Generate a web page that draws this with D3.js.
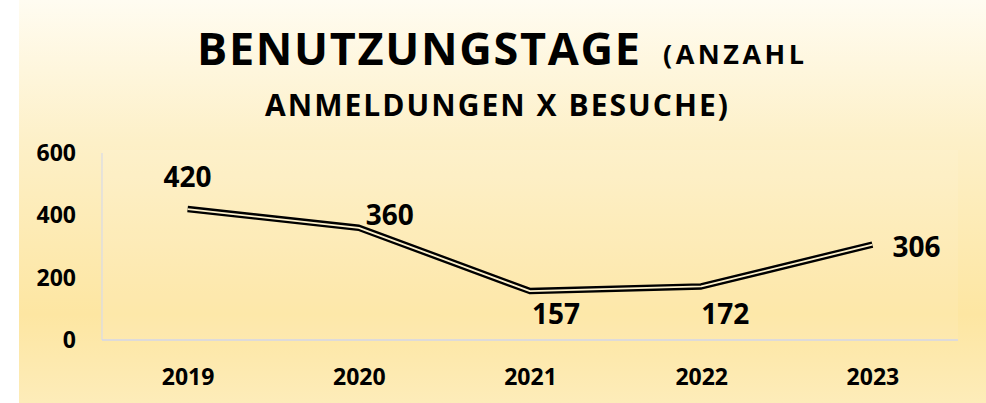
<!DOCTYPE html>
<html>
<head>
<meta charset="utf-8">
<script src="https://cdn.jsdelivr.net/npm/d3@7"></script>
<style>
  html, body { margin: 0; padding: 0; background: #ffffff; }
  svg { display: block; font-family: "Open Sans", sans-serif; font-weight: 700; }
</style>
</head>
<body>
<div id="chart"></div>
<script>
// data
const years = ['2019', '2020', '2021', '2022', '2023'];
const usageDays = [420, 360, 157, 172, 306];
const yTicks = [0, 200, 400, 600];

const width = 986;
const height = 403;
const plot = { left: 102, right: 958, top: 153, bottom: 340 };

// label placement relative to each point (dx, dy to baseline)
const labelOffsets = [[0, -22], [31, -3], [26, 33], [24, 38], [44, 12]];

const svg = d3.select('#chart')
  .append('svg')
  .attr('width', width)
  .attr('height', height);

const defs = svg.append('defs');
const grad = defs.append('linearGradient')
  .attr('id', 'bg')
  .attr('x1', 0).attr('y1', 0).attr('x2', 0).attr('y2', 1);
grad.append('stop').attr('offset', '0%').attr('stop-color', '#fffcf1');
grad.append('stop').attr('offset', '35%').attr('stop-color', '#fdf0c8');
grad.append('stop').attr('offset', '78%').attr('stop-color', '#fde6a2');
grad.append('stop').attr('offset', '100%').attr('stop-color', '#fdecb9');

svg.append('rect')
  .attr('x', 19).attr('y', 0)
  .attr('width', width - 19).attr('height', height)
  .attr('fill', 'url(#bg)');

// plot area, faint lighter fill
svg.append('rect')
  .attr('x', plot.left).attr('y', plot.top - 3)
  .attr('width', plot.right - plot.left).attr('height', plot.bottom - plot.top + 3)
  .attr('fill', '#ffffff').attr('opacity', 0.08);

// title
const title = svg.append('g').attr('fill', '#000000');
title.append('text')
  .attr('x', 197).attr('y', 65)
  .attr('textLength', 443).attr('lengthAdjust', 'spacing')
  .style('font-size', '45px')
  .text('BENUTZUNGSTAGE');
title.append('text')
  .attr('x', 663).attr('y', 64)
  .attr('textLength', 141).attr('lengthAdjust', 'spacing')
  .style('font-size', '27px')
  .text('(ANZAHL');
title.append('text')
  .attr('x', 265).attr('y', 116)
  .attr('textLength', 463).attr('lengthAdjust', 'spacing')
  .style('font-size', '30px')
  .text('ANMELDUNGEN X BESUCHE)');

const x = d3.scalePoint()
  .domain(years)
  .range([plot.left, plot.right])
  .padding(0.5);

const y = d3.scaleLinear()
  .domain([0, 600])
  .range([plot.bottom, plot.top]);

// axis lines
svg.append('line')
  .attr('x1', plot.left).attr('x2', plot.left)
  .attr('y1', plot.top).attr('y2', plot.bottom)
  .attr('stroke', '#d8dae8').attr('stroke-width', 1.2);
svg.append('line')
  .attr('x1', plot.left).attr('x2', plot.right)
  .attr('y1', plot.bottom).attr('y2', plot.bottom)
  .attr('stroke', '#d2d6ea').attr('stroke-width', 1.5);

const yAxis = svg.append('g')
  .attr('transform', 'translate(' + plot.left + ',0)')
  .call(d3.axisLeft(y).tickValues(yTicks).tickSize(0).tickPadding(26).tickFormat(d3.format('d')));
yAxis.select('.domain').remove();
yAxis.selectAll('text')
  .attr('fill', '#000')
  .style('font-family', '"Open Sans", sans-serif')
  .style('font-weight', 700)
  .style('font-size', '23px');

const xAxis = svg.append('g')
  .attr('transform', 'translate(0,' + plot.bottom + ')')
  .call(d3.axisBottom(x).tickSize(0).tickPadding(29));
xAxis.select('.domain').remove();
xAxis.selectAll('text')
  .attr('fill', '#000')
  .style('font-family', '"Open Sans", sans-serif')
  .style('font-weight', 700)
  .style('font-size', '23px');

// double line: black stroke with a light core
const line = d3.line()
  .x((d, i) => x(years[i]))
  .y(d => y(d));

svg.append('path')
  .datum(usageDays)
  .attr('d', line)
  .attr('fill', 'none')
  .attr('stroke', '#000000')
  .attr('stroke-width', 6.5)
  .attr('stroke-linejoin', 'round');

svg.append('path')
  .datum(usageDays)
  .attr('d', line)
  .attr('fill', 'none')
  .attr('stroke', '#fdf1cc')
  .attr('stroke-width', 1.8)
  .attr('stroke-linejoin', 'round');

// data labels
svg.append('g')
  .selectAll('text')
  .data(usageDays)
  .enter()
  .append('text')
  .attr('x', (d, i) => x(years[i]) + labelOffsets[i][0])
  .attr('y', (d, i) => y(d) + labelOffsets[i][1])
  .attr('text-anchor', 'middle')
  .style('font-size', '28px')
  .attr('fill', '#000')
  .text(d => d);
</script>
</body>
</html>
